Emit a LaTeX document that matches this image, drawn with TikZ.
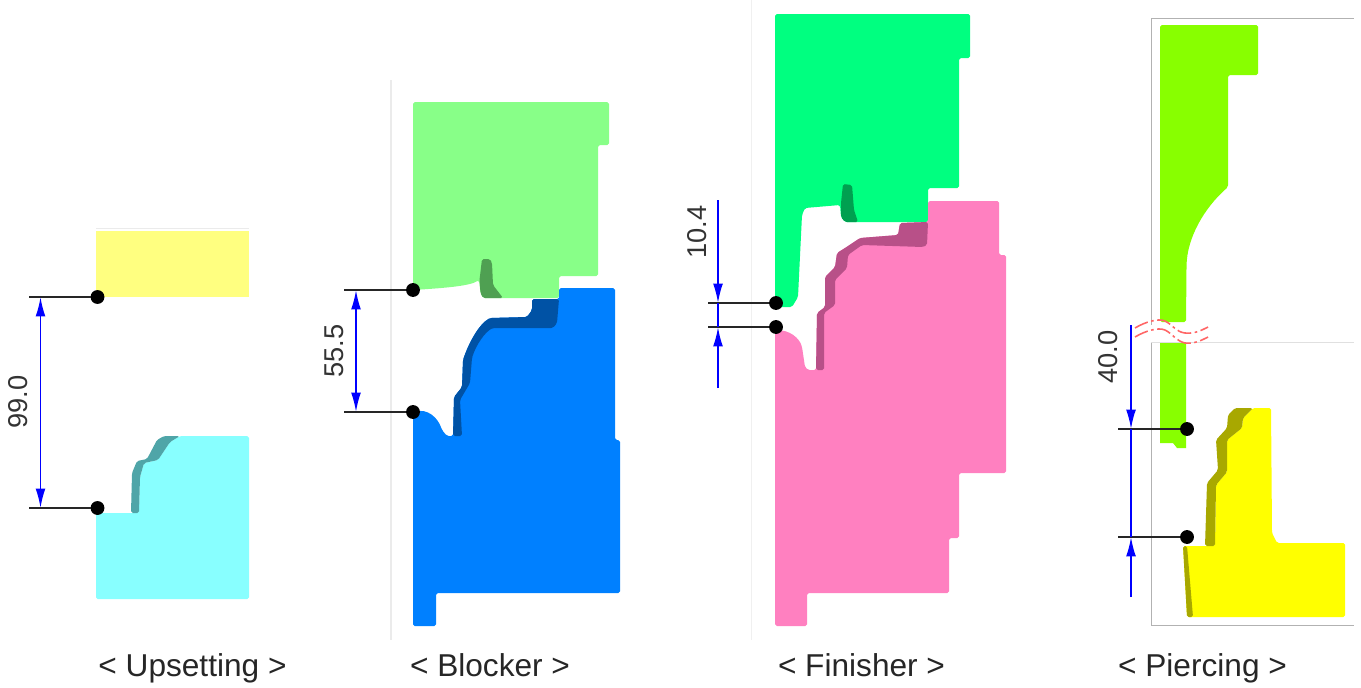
\documentclass[tikz,border=0pt]{standalone}
\usepackage{fontspec}
\setmainfont{Liberation Sans}
\usetikzlibrary{arrows.meta}
\definecolor{uppunch}{HTML}{FFFF80}
\definecolor{updie}{HTML}{88FFFF}
\definecolor{updark}{HTML}{4FA5A8}
\definecolor{blpunch}{HTML}{88FF88}
\definecolor{bldark}{HTML}{4FA052}
\definecolor{bldie}{HTML}{0080FF}
\definecolor{bldiedark}{HTML}{0052A5}
\definecolor{fipunch}{HTML}{00FF80}
\definecolor{fidark}{HTML}{00A050}
\definecolor{fidie}{HTML}{FF80C0}
\definecolor{fidiedark}{HTML}{B85088}
\definecolor{pipunch}{HTML}{88FF00}
\definecolor{pidie}{HTML}{FFFF00}
\definecolor{pidark}{HTML}{A8A800}
\definecolor{dimblue}{HTML}{0000FF}
\tikzset{mydot/.style={inner sep=0pt,minimum size=7.9pt,fill=black,outer sep=0,circle},
  myleader/.style={line width=0.8pt,black!85},
  mytip/.tip={Latex[length=11pt,width=5.6pt]},
  mydim/.style={line width=1pt,dimblue},
  myvalue/.style={rotate=90,font=\fontsize{15.5}{18}\selectfont,text=black!80,inner sep=0pt},
  mytitle/.style={anchor=base,font=\fontsize{18}{20}\selectfont,text=black!85,inner sep=0pt},
  myedge/.style={rounded corners=1pt},
  myframe/.style={line width=0.5pt,black!30},
  mybreak/.style={line width=0.9pt,red!60,dash pattern=on 8pt off 2pt on 1.5pt off 2pt}}
\begin{document}
\begin{tikzpicture}[x=0.02cm,y=-0.02cm]
 \useasboundingbox (0,0) rectangle (1361,687);
 % upsetting
 \fill[uppunch] (96,231) rectangle (249,297);
 \draw[black!8] (96,228) -- (249,228);
 \fill[updie,myedge] (96,513) -- (139,513) -- (140,477) -- (144,463) -- (158,460) -- (170,442)
   -- (180,436) -- (249,436) -- (249,599) -- (96,599) -- cycle;
 \fill[updark,myedge] (131,513) -- (132,473) -- (137,461) -- (147,459) -- (157,440) -- (164,436) -- (180,436)
   -- (170,442) -- (158,460) -- (144,463) -- (140,477) -- (139,513) -- cycle;
 % blocker
 \draw[line width=0.8pt,black!8] (391,80) -- (391,640);
 \fill[blpunch,myedge] (413,102) -- (609,102) -- (609,145) -- (598,145) -- (598,276) -- (559,276) -- (559,298)
   -- (483,298) -- (480.5,293) -- (479,280) .. controls (470,286) and (445,288) .. (413,290) -- cycle;
 \fill[bldark,myedge] (482,259) -- (490,259) -- (492,263) -- (493,285) -- (503,298) -- (483,298) -- (480.5,293)
   -- (479.5,280) -- cycle;
 \fill[bldie,myedge] (413,412) .. controls (428,408) and (438,418) .. (442,430) -- (447,436) -- (453,436)
   -- (454,397) -- (462,387) -- (463,360) .. controls (468,345) and (478,325) .. (490,318) -- (527,317)
   -- (532,310) -- (532,299) -- (559,299) -- (559,288) -- (615,288) -- (615,440) -- (620,440) -- (620,593)
   -- (436,593) -- (436,626) -- (413,626) -- cycle;
 \fill[bldiedark,myedge] (453,436) -- (454,397) -- (462,387) -- (463,360) .. controls (468,345) and (478,325) .. (490,318)
   -- (527,317) -- (532,310) -- (532,299) -- (559,299) -- (557,323) -- (553,328) -- (493,328)
   .. controls (485,332) and (476,345) .. (472,358) -- (470,383) -- (460,400) -- (462,436) -- cycle;
 % finisher
 \draw[black!6] (751,0) -- (751,640);
 \fill[fipunch,myedge] (775,14) -- (970,14) -- (970,58) -- (959,58) -- (959,188) -- (928,188) -- (928,222)
   -- (845,222) -- (841,217) -- (840,205) -- (805,208) -- (802,215) -- (798,297) -- (792,307) -- (775,307) -- cycle;
 \fill[fidark,myedge] (843,184) -- (852,185) -- (854,210) -- (858,222) -- (845,222) -- (841,217) -- (841,203) -- cycle;
 \fill[fidie,myedge] (775,330) .. controls (790,330) and (799,338) .. (802,347) -- (805,367) -- (808,370) -- (816,370)
   -- (817,313) -- (825,307) -- (825,277) -- (835,267) -- (837,253) -- (845,248) -- (860,238) -- (898,235) -- (900,223)
   -- (928,222) -- (928,201) -- (999,201) -- (999,255) -- (1006,255) -- (1006,473) -- (959,473) -- (959,538)
   -- (949,538) -- (949,593) -- (807,593) -- (807,626) -- (775,626) -- cycle;
 \fill[fidiedark,myedge] (816,370) -- (817,313) -- (825,307) -- (825,277) -- (835,267) -- (837,253) -- (845,248) -- (860,238)
   -- (898,235) -- (900,223) -- (928,222) -- (927,245) -- (923,247) -- (862,245) -- (848,255) -- (847,268) -- (835,280)
   -- (835,305) -- (824,313) -- (824,370) -- cycle;
 % piercing
 \draw[myframe] (1151,325) -- (1151,18) -- (1354,18);
 \draw[myframe] (1151,343) -- (1151,625) -- (1354,625);
 \draw[black!12] (1151,342) -- (1354,342);
 \fill[pipunch,myedge] (1160,25) -- (1258,25) -- (1258,75) -- (1228,75) -- (1228,187)
   .. controls (1204,208) and (1187,238) .. (1186.5,267) -- (1186,322) -- (1160,322) -- cycle;
 \fill[pipunch] (1160,343) -- (1186,343) -- (1186,448) -- (1177,448) -- (1173,443) -- (1160,443) -- cycle;
 \fill[pidie,myedge] (1183,546) -- (1215,546) -- (1216,485) -- (1227,472) -- (1227,440) -- (1242,428) -- (1243,418)
   -- (1253,408) -- (1271,408) -- (1272,533) -- (1277,543) -- (1345,543) -- (1345,617) -- (1187,617) -- cycle;
 \fill[pidark,myedge] (1205,546) -- (1207,483) -- (1218,470) -- (1216,440) -- (1227,428) -- (1228,415) -- (1235,408)
   -- (1253,408) -- (1243,418) -- (1242,428) -- (1227,440) -- (1227,472) -- (1216,485) -- (1215,546) -- cycle;
 \fill[pidark,myedge] (1183,546) -- (1187,546) -- (1193,617) -- (1187,617) -- cycle;
 \draw[mybreak] (1135,328) .. controls (1145,322) and (1158,318) .. (1165,321) .. controls (1173,325) and (1176,332) .. (1185,333)
   .. controls (1195,334) and (1202,330) .. (1208,327);
 \draw[mybreak] (1135,337) .. controls (1145,331) and (1158,327) .. (1165,330) .. controls (1173,334) and (1176,341) .. (1185,343)
   .. controls (1195,344) and (1202,340) .. (1208,337);
 % dots and leaders
 \foreach \name/\x/\y/\xend in {ua/97.5/297/29,ub/97.5/508/29,ba/413/290/344,bb/413/412/344,
     fa/776/303/708,fb/776/327/708,pa/1187/429/1118,pb/1187/537/1118}{
   \node[mydot] (\name) at (\x,\y) {};
   \coordinate (\name end) at (\xend,\y);
   \draw[myleader] (\name end) -- (\name);
 }
 % dimensions
 \coordinate (ua1) at (40.5,297);
 \coordinate (ub1) at (40.5,508);
 \draw[mydim,mytip-mytip] (ua1) -- (ub1);
 \coordinate (ba1) at (356,290);
 \coordinate (bb1) at (356,412);
 \draw[mydim,mytip-mytip] (ba1) -- (bb1);
 \coordinate (fa1) at (718,303);
 \coordinate (fa2) at (718,200);
 \coordinate (fb1) at (718,327);
 \coordinate (fb2) at (718,388);
 \draw[mydim,-mytip] (fa2) -- (fa1);
 \draw[mydim,-mytip] (fb2) -- (fb1);
 \draw[mydim] (fa1) -- (fb1);
 \coordinate (pa1) at (1131,429);
 \coordinate (pa2) at (1131,325);
 \coordinate (pb1) at (1131,537);
 \coordinate (pb2) at (1131,597);
 \draw[mydim,-mytip] (pa2) -- (pa1);
 \draw[mydim] (pa1) -- (pb1);
 \draw[mydim,-mytip] (pb2) -- (pb1);
 \node[myvalue] (v99) at (18,402) {99.0};
 \node[myvalue] (v55) at (334,351) {55.5};
 \node[myvalue] (v10) at (697,232) {10.4};
 \node[myvalue] (v40) at (1108,357) {40.0};
 \node[mytitle] (t1) at (192.5,676) {< Upsetting >};
 \node[mytitle] (t2) at (490,676) {< Blocker >};
 \node[mytitle] (t3) at (861.5,676) {< Finisher >};
 \node[mytitle] (t4) at (1202.5,676) {< Piercing >};
\end{tikzpicture}
\end{document}
